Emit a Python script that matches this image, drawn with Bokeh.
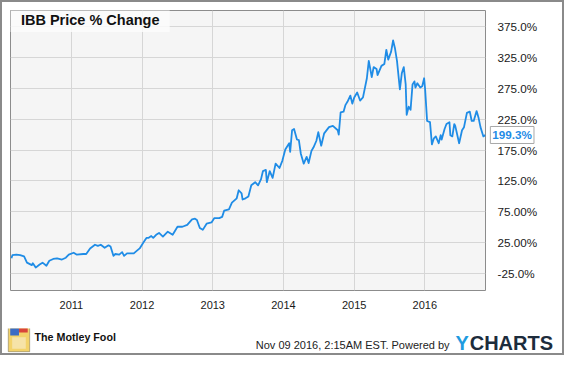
from bokeh.plotting import figure
from bokeh.layouts import column
from bokeh.models import Range1d, FixedTicker, Label, BoxAnnotation
from bokeh.embed import file_html
from bokeh.resources import INLINE

# ---------------- data ----------------
years = [
    2010.152, 2010.166, 2010.221, 2010.276, 2010.331, 2010.372, 2010.441, 2010.455,
    2010.496, 2010.551, 2010.592, 2010.647, 2010.688, 2010.743, 2010.798, 2010.867,
    2010.922, 2010.963, 2011.032, 2011.073, 2011.169, 2011.210, 2011.265, 2011.334,
    2011.375, 2011.416, 2011.471, 2011.526, 2011.554, 2011.595, 2011.622, 2011.677,
    2011.718, 2011.746, 2011.787, 2011.883, 2011.924, 2011.966, 2012.021, 2012.062,
    2012.089, 2012.130, 2012.158, 2012.199, 2012.240, 2012.295, 2012.364, 2012.433,
    2012.501, 2012.570, 2012.639, 2012.707, 2012.749, 2012.776, 2012.817, 2012.859,
    2012.913, 2012.982, 2013.023, 2013.092, 2013.133, 2013.161, 2013.229, 2013.271,
    2013.339, 2013.367, 2013.408, 2013.422, 2013.463, 2013.504, 2013.545, 2013.600,
    2013.641, 2013.683, 2013.710, 2013.751, 2013.765, 2013.806, 2013.847, 2013.889,
    2013.944, 2013.985, 2014.026, 2014.081, 2014.095, 2014.122, 2014.150, 2014.191,
    2014.218, 2014.246, 2014.287, 2014.328, 2014.356, 2014.397, 2014.424, 2014.466,
    2014.493, 2014.534, 2014.576, 2014.644, 2014.699, 2014.768, 2014.782, 2014.809,
    2014.850, 2014.878, 2014.905, 2014.946, 2014.974, 2015.001, 2015.043, 2015.084,
    2015.125, 2015.180, 2015.207, 2015.249, 2015.276, 2015.317, 2015.331, 2015.386,
    2015.427, 2015.455, 2015.482, 2015.523, 2015.551, 2015.578, 2015.606, 2015.647,
    2015.674, 2015.702, 2015.729, 2015.743, 2015.771, 2015.798, 2015.826, 2015.853,
    2015.867, 2015.894, 2015.935, 2015.963, 2015.990, 2016.004, 2016.032, 2016.073,
    2016.100, 2016.128, 2016.155, 2016.196, 2016.224, 2016.238, 2016.279, 2016.306,
    2016.348, 2016.361, 2016.389, 2016.416, 2016.430, 2016.485, 2016.526, 2016.554,
    2016.595, 2016.636, 2016.663, 2016.691, 2016.732, 2016.760, 2016.787, 2016.828,
    2016.856,
]
pct_change = [
    0, 5, 6, 5, 3, -7, -11, -8,
    -15, -10, -7, -12, -4, -1, 0, -2,
    1, 6, 9, 6, 7, 7, 16, 22,
    20, 22, 17, 21, 19, 4, 7, 6,
    10, 4, 8, 8, 12, 16, 26, 33,
    33, 36, 33, 38, 41, 35, 43, 38,
    51, 51, 54, 63, 64, 62, 49, 46,
    56, 58, 65, 65, 67, 77, 79, 90,
    97, 110, 105, 95, 97, 100, 118, 123,
    118, 128, 141, 143, 123, 141, 130, 153,
    146, 158, 176, 186, 172, 207, 209, 192,
    191, 169, 153, 164, 154, 174, 179, 190,
    204, 182, 202, 212, 214, 207, 200, 236,
    237, 248, 253, 263, 250, 260, 268, 255,
    260, 291, 319, 293, 309, 306, 296, 311,
    314, 337, 321, 334, 352, 339, 319, 273,
    299, 309, 281, 232, 245, 240, 281, 286,
    276, 283, 276, 278, 291, 273, 222, 220,
    184, 194, 197, 186, 199, 192, 209, 217,
    220, 199, 197, 217, 214, 186, 207, 212,
    235, 237, 222, 222, 238, 227, 212, 197,
    199.3,
]
x_tick_values = [2011, 2012, 2013, 2014, 2015, 2016]
x_tick_labels = ["2011", "2012", "2013", "2014", "2015", "2016"]
y_tick_values = [-25, 25, 75, 125, 175, 225, 275, 325, 375]
y_tick_labels = ["-25.0%", "25.00%", "75.00%", "125.0%", "175.0%",
                 "225.0%", "275.0%", "325.0%", "375.0%"]
title_text = "IBB Price % Change"
footer_date = "Nov 09 2016, 2:15AM EST.  Powered by"
brand = "The Motley Fool"

# ---------------- layout ----------------
W = 560                    # inner width (2px grey border on each side)
MH = 326                   # main chart height
FOOT_H = 351 - MH          # footer height
BL, BT, BR = 8, 8, 77
FRAME_BOTTOM = 291
BB = MH - FRAME_BOTTOM
X0, X1 = 2010.139, 2016.858
Y0, Y1 = -52, 400.5
SX, SY = 564 / 580, 355 / 371   # reference px -> picture px

FONT = "Liberation Sans"
BLUE = "#1f8ce6"


def fx(X):  # reference px -> main-frame-relative screen x
    return X * SX - 2 - BL


def fy(Y):  # reference px -> main-frame-relative screen y (from frame bottom)
    return FRAME_BOTTOM - (Y * SY - 2)


p = figure(width=W, height=MH, output_backend="svg", toolbar_location=None,
           x_range=Range1d(X0, X1), y_range=Range1d(Y0, Y1),
           y_axis_location="right",
           min_border_left=BL, min_border_top=BT, min_border_right=BR, min_border_bottom=BB,
           background_fill_color="#f5f5f5", border_fill_color="white")
p.outline_line_color = "#8c8c8c"
p.outline_line_width = 1

p.line(years, pct_change, line_color=BLUE, line_width=1.8, line_join="round")

# axes
p.xaxis.ticker = FixedTicker(ticks=x_tick_values)
p.xaxis.major_label_overrides = dict(zip(x_tick_values, x_tick_labels))
p.yaxis.ticker = FixedTicker(ticks=y_tick_values)
p.yaxis.major_label_overrides = dict(zip(y_tick_values, y_tick_labels))
for ax in (p.xaxis[0], p.yaxis[0]):
    ax.axis_line_color = None
    ax.major_tick_line_color = None
    ax.minor_tick_line_color = None
    ax.major_label_text_font = FONT
    ax.major_label_text_color = "#1a1a1a"
p.yaxis.major_label_text_font_size = "11.7px"
p.xaxis.major_label_text_font_size = "11px"
p.yaxis.major_label_standoff = 6
p.xaxis.major_label_standoff = 4

p.xgrid.grid_line_color = "#d6d6d6"
p.ygrid.grid_line_color = "#d6d6d6"

# title box inside the plot area
p.add_layout(BoxAnnotation(left=fx(10), right=fx(174), top=fy(10), bottom=fy(36),
                           left_units="screen", right_units="screen",
                           top_units="screen", bottom_units="screen",
                           fill_color="#fbfbfb", fill_alpha=0.85, line_color=None))
p.add_layout(Label(x=fx(21), y=fy(23.5), x_units="screen", y_units="screen",
                   text=title_text, text_font=FONT, text_font_style="bold",
                   text_font_size="14.5px", text_color="#111111",
                   text_baseline="middle", text_align="left"))

# last value tag (in a side panel so that it is not clipped to the plot area)
last = pct_change[-1]
p.add_layout(Label(x=years[-1], y=last, x_offset=5,
                   text=f"{last:.1f}%", text_font=FONT, text_font_style="bold",
                   text_font_size="11.7px", text_color=BLUE,
                   text_align="left", text_baseline="middle",
                   background_fill_color="white", border_line_color="#a8a8a8",
                   border_line_width=1, padding=2), "below")

# ---------------- footer ----------------
f = figure(width=W, height=FOOT_H, output_backend="svg", toolbar_location=None,
           x_axis_type=None, y_axis_type=None, x_range=Range1d(0, 1), y_range=Range1d(0, 1),
           min_border=0, min_border_left=0, min_border_right=0, min_border_top=0, min_border_bottom=0,
           background_fill_color="white", border_fill_color="white")
f.outline_line_color = None
for fig in (p, f):
    if "frame_align" in fig.properties():
        fig.frame_align = False


def gx(X):
    return X * SX - 2


def gy(Y):
    return FOOT_H - (Y * SY - 2 - MH)


def box(fig, l, r, t, b, **kw):
    fig.add_layout(BoxAnnotation(left=l, right=r, top=t, bottom=b,
                                 left_units="screen", right_units="screen",
                                 top_units="screen", bottom_units="screen", **kw))


# jester logo (simplified)
box(f, gx(8), gx(30), gy(340), gy(367), fill_color="#f3d36b", fill_alpha=1,
    line_color="#1a1a1a", line_width=1)
box(f, gx(10), gx(19), gy(342), gy(350), fill_color="#3b6cc4", fill_alpha=1, line_color=None)
box(f, gx(19), gx(28), gy(342), gy(347), fill_color="#d9453a", fill_alpha=1, line_color=None)
box(f, gx(12), gx(26), gy(352), gy(364), fill_color="#f6e3a8", fill_alpha=1, line_color=None)

f.add_layout(Label(x=gx(35), y=gy(352), x_units="screen", y_units="screen",
                   text=brand, text_font=FONT, text_font_style="bold",
                   text_font_size="10.7px", text_color="#111111",
                   text_baseline="middle", text_align="left"))
f.add_layout(Label(x=gx(465), y=gy(360.5), x_units="screen", y_units="screen",
                   text=footer_date, text_font=FONT, text_font_size="11px",
                   text_color="#222222", text_baseline="middle", text_align="right"))
f.add_layout(Label(x=gx(468), y=gy(358), x_units="screen", y_units="screen",
                   text="Y", text_font=FONT, text_font_style="bold",
                   text_font_size="20px", text_color="#1e9be0",
                   text_baseline="middle", text_align="left"))
f.add_layout(Label(x=gx(482.5), y=gy(358), x_units="screen", y_units="screen",
                   text="CHARTS", text_font=FONT, text_font_style="bold",
                   text_font_size="20px", text_color="#1c2c3c",
                   text_baseline="middle", text_align="left"))

layout = column(p, f, spacing=0, styles={"border": "2px solid #8a8a8a"})

open("out.html", "w").write(file_html(layout, INLINE))
